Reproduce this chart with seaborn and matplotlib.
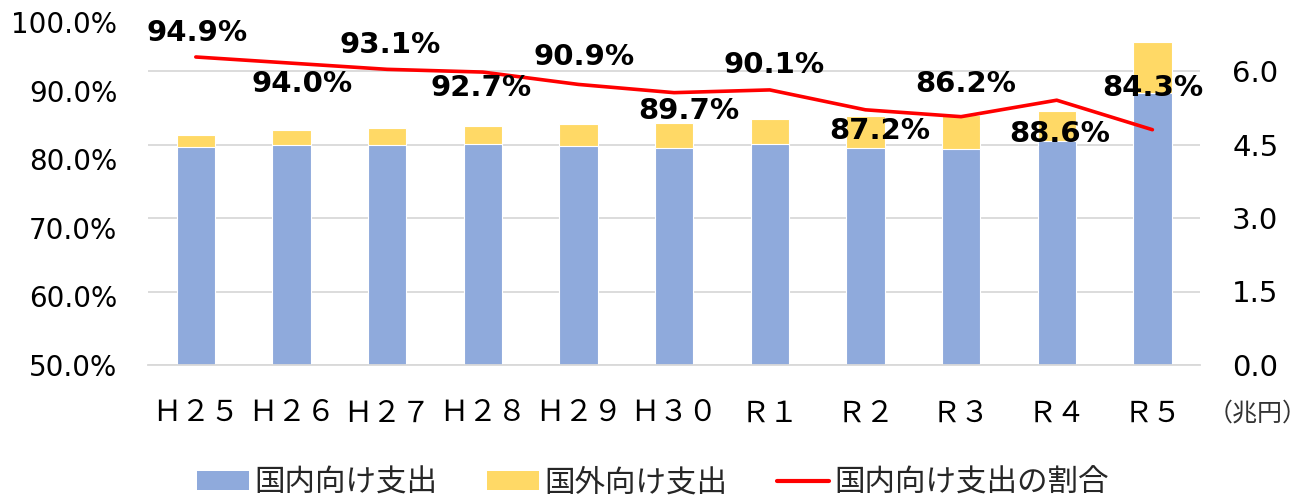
import matplotlib
matplotlib.use("Agg")
import matplotlib.pyplot as plt
import seaborn as sns
import numpy as np
from matplotlib.patches import Patch
from matplotlib.lines import Line2D
from matplotlib.ticker import FuncFormatter

# data (兆円 / 割合)
years = ["Ｈ２５", "Ｈ２６", "Ｈ２７", "Ｈ２８", "Ｈ２９", "Ｈ３０", "Ｒ１", "Ｒ２", "Ｒ３", "Ｒ４", "Ｒ５"]
domestic = [4.44, 4.50, 4.49, 4.51, 4.46, 4.43, 4.51, 4.43, 4.41, 4.58, 5.56]
foreign = [0.25, 0.29, 0.34, 0.36, 0.45, 0.51, 0.51, 0.65, 0.69, 0.60, 1.04]
share = [94.9, 94.0, 93.1, 92.7, 90.9, 89.7, 90.1, 87.2, 86.2, 88.6, 84.3]

# label offsets (pixels) for the percentage labels
label_dx = [1, 11, 3, -2, 6, 15, 4, 14, 5, 3, 0]
label_dy = [24, -21, 24, -16, 27, -18, 25, -21, 33, -34, 42]

BLUE = "#8FAADC"
YELLOW = "#FFD966"
RED = "#FF0000"
GRID = "#D9D9D9"

sns.set_style("white")
plt.rcParams['font.family'] = ['DejaVu Sans', 'Noto Sans CJK JP']

fig, ax = plt.subplots(figsize=(13.06, 5.0), dpi=100)
fig.subplots_adjust(left=0.1133, right=0.919, bottom=0.27, top=0.956)

total = [d + f for d, f in zip(domestic, foreign)]
sns.barplot(x=years, y=total, color=YELLOW, width=0.4, saturation=1,
            edgecolor="white", linewidth=0.8, ax=ax)
sns.barplot(x=years, y=domestic, color=BLUE, width=0.4, saturation=1,
            edgecolor="white", linewidth=0.8, ax=ax)

ax2 = ax.twinx()
x = np.arange(len(years))
ratio = [s / 100 for s in share]
sns.lineplot(x=x, y=ratio, color=RED, lw=2.6, ax=ax2)

# axes: bars on right scale, line on left scale
ax.yaxis.tick_right()
ax2.yaxis.tick_left()
ax.set_ylim(0, 7.0)
ax.set_yticks([0, 1.5, 3.0, 4.5, 6.0])
ax.yaxis.set_major_formatter(FuncFormatter(lambda v, p: f"{v:.1f}"))
ax2.set_ylim(0.5, 1.0)
ax2.set_yticks([0.5, 0.6, 0.7, 0.8, 0.9, 1.0])
ax2.yaxis.set_major_formatter(FuncFormatter(lambda v, p: f"{v*100:.1f}%"))

ax.set_xlim(-0.5, len(years) - 0.5)
ax.set_xticks(np.arange(-0.5, len(years), 1), minor=True)
ax.tick_params(axis='x', which='major', length=0, pad=24, labelsize=21, labelcolor='black')
ax.tick_params(axis='x', which='minor', length=10, width=1.3, color=GRID, direction='out')
for t in ax.get_xticklabels():
    t.set_fontfamily('Noto Sans CJK JP')
ax.tick_params(axis='y', length=0, pad=23, labelsize=21, labelcolor='black')
ax2.tick_params(axis='y', length=0, pad=22, labelsize=20, labelcolor='black')
ax.set_xlabel("")
ax.set_ylabel("")
ax2.set_ylabel("")

ax.grid(axis='y', color=GRID, lw=1.3)
ax.set_axisbelow(True)
for s in ["top", "left", "right"]:
    ax.spines[s].set_visible(False)
ax.spines["bottom"].set_color(GRID)
ax.spines["bottom"].set_linewidth(1.3)
for s in ax2.spines.values():
    s.set_visible(False)

for i, r in enumerate(ratio):
    ax2.annotate(f"{share[i]:.1f}%", (i, r), xytext=(label_dx[i], label_dy[i]),
                 textcoords='offset pixels', ha='center', va='center',
                 fontsize=21, fontweight='bold', color='black')

fig.text(1258 / 1306, 1 - 414 / 500, "（兆円）", ha='center', va='center',
         fontsize=18, color='#333333', family='Noto Sans CJK JP')

handles = [Patch(facecolor=BLUE, edgecolor='none'),
           Patch(facecolor=YELLOW, edgecolor='none'),
           Line2D([0], [0], color=RED, lw=3)]
labels = ["国内向け支出", "国外向け支出", "国内向け支出の割合"]
fig.legend(handles, labels, loc='center', bbox_to_anchor=(0.5, 1 - 483 / 500),
           ncol=3, frameon=False, fontsize=22, handlelength=1.7,
           handleheight=0.6, handletextpad=0.2, columnspacing=1.6)

fig.savefig("out.png", dpi=100)
